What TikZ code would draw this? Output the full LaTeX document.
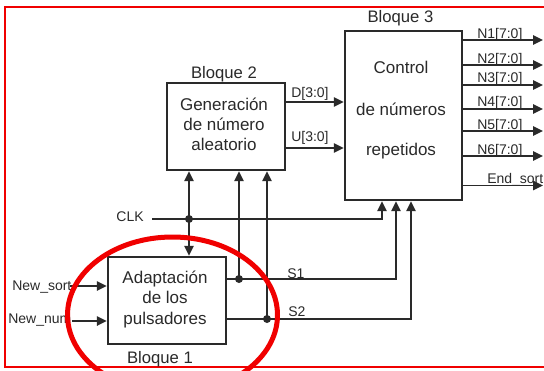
\documentclass[tikz,border=0pt]{standalone}
\usepackage{fontspec}
\setmainfont{Liberation Sans}
\usetikzlibrary{arrows.meta}
\definecolor{ink}{HTML}{2A2A2A}
\definecolor{hlred}{HTML}{F00000}
\begin{document}
\begin{tikzpicture}[x=0.75pt,y=-0.75pt,
  blk/.style={draw=ink,line width=1.7pt,fill=white,inner sep=0,minimum width=88.5pt,minimum height=65.25pt},
  boxtxt/.style={font=\fontsize{12.75}{15}\selectfont,text=ink,anchor=base,inner sep=0},
  ttl/.style={font=\fontsize{12.5}{15}\selectfont,text=ink,anchor=base,inner sep=0},
  sig/.style={font=\fontsize{10.5}{12}\selectfont,text=ink,inner sep=0,anchor=base west},
  wire/.style={draw=ink,line width=1.4pt},
  arr/.style={wire,-{Triangle[length=7.5pt,width=7pt]}},
  jdot/.style={circle,fill=ink,inner sep=0,minimum size=6pt}]
\useasboundingbox (0,0) rectangle (544,371);
\fill[white] (0,0) rectangle (544,371);
\draw[hlred,line width=0.8pt] (5,7) rectangle (600,367);

% blocks
\node[blk] (b1) at (167,300.5) {};
\node[blk] (b2) at (226,126.5) {};
\node[blk,minimum width=87.75pt,minimum height=126.75pt] (b3) at (403.5,115.5) {};

\node[ttl] (t1) at (160,363) {Bloque 1};
\node[ttl] (t2) at (224,79) {Bloque 2};
\node[ttl] (t3) at (400.5,22.5) {Bloque 3};

\node[boxtxt] (b1a) at (165,283) {Adaptación};
\node[boxtxt] (b1b) at (165,303.5) {de los};
\node[boxtxt] (b1c) at (165,324) {pulsadores};
\node[boxtxt] (b2a) at (224,110) {Generación};
\node[boxtxt] (b2b) at (224,130) {de número};
\node[boxtxt] (b2c) at (224,150.5) {aleatorio};
\node[boxtxt] (b3a) at (401,74) {Control};
\node[boxtxt] (b3b) at (401,115) {de números};
\node[boxtxt] (b3c) at (401,155) {repetidos};

% D, U buses
\coordinate (yd) at (0,102);
\coordinate (yu) at (0,148);
\draw[arr] (b2.east |- yd) -- (b3.west |- yd);
\draw[arr] (b2.east |- yu) -- (b3.west |- yu);
\node[sig] (dl) at (291,97) {D[3:0]};
\node[sig] (ul) at (291,142) {U[3:0]};

% outputs
\coordinate (o1) at (543,40);
\coordinate (o2) at (543,65);
\coordinate (o3) at (543,85);
\coordinate (o4) at (543,109);
\coordinate (o5) at (543,131);
\coordinate (o6) at (543,156);
\coordinate (o7) at (543,185.5);
\node[sig] (n1) at (477,38) {N1[7:0]};
\node[sig] (n2) at (477,63) {N2[7:0]};
\node[sig] (n3) at (477,83) {N3[7:0]};
\node[sig] (n4) at (477,107) {N4[7:0]};
\node[sig] (n5) at (477,129) {N5[7:0]};
\node[sig] (n6) at (477,154) {N6[7:0]};
\node[sig] (n7) at (487,183) {End\_sort};
\draw[arr] (b3.east |- o1) -- (o1);
\draw[arr] (b3.east |- o2) -- (o2);
\draw[arr] (b3.east |- o3) -- (o3);
\draw[arr] (b3.east |- o4) -- (o4);
\draw[arr] (b3.east |- o5) -- (o5);
\draw[arr] (b3.east |- o6) -- (o6);
\draw[arr] (b3.east |- o7) -- (o7);

% inputs
\node[sig] (ns) at (12,290) {New\_sort};
\node[sig] (nn) at (8,323) {New\_num};
\coordinate (nsa) at (70,286);
\coordinate (nna) at (72,321);
\draw[arr] (nsa) -- (b1.west |- nsa);
\draw[arr] (nna) -- (b1.west |- nna);

% CLK
\node[sig,anchor=base east] (clk) at (144,221) {CLK};
\coordinate (cs) at (152,219);
\coordinate (cj) at (189,219);
\coordinate (cx) at (382,0);
\draw[arr] (cs) -| (b3.south -| cx);
\draw[arr] (cj) -- (cj |- b2.south);
\draw[arr] (cj) -- (cj |- b1.north);
\node[jdot] (dc) at (cj) {};

% S1
\coordinate (s1y) at (0,279);
\coordinate (s1x) at (396,0);
\coordinate (j1) at (239,279);
\draw[arr] (b1.east |- s1y) -| (b3.south -| s1x);
\draw[arr] (j1) -- (j1 |- b2.south);
\node[jdot] (d1) at (j1) {};
\node[sig] (s1l) at (287,278) {S1};

% S2
\coordinate (s2y) at (0,319);
\coordinate (s2x) at (411,0);
\coordinate (j2) at (267,319);
\draw[arr] (b1.east |- s2y) -| (b3.south -| s2x);
\draw[arr] (j2) -- (j2 |- b2.south);
\node[jdot] (d2) at (j2) {};
\node[sig] (s2l) at (288,316) {S2};

% red highlight
\draw[hlred,line width=3.75pt] (172.5,315) ellipse [x radius=105, y radius=78];
\end{tikzpicture}
\end{document}
